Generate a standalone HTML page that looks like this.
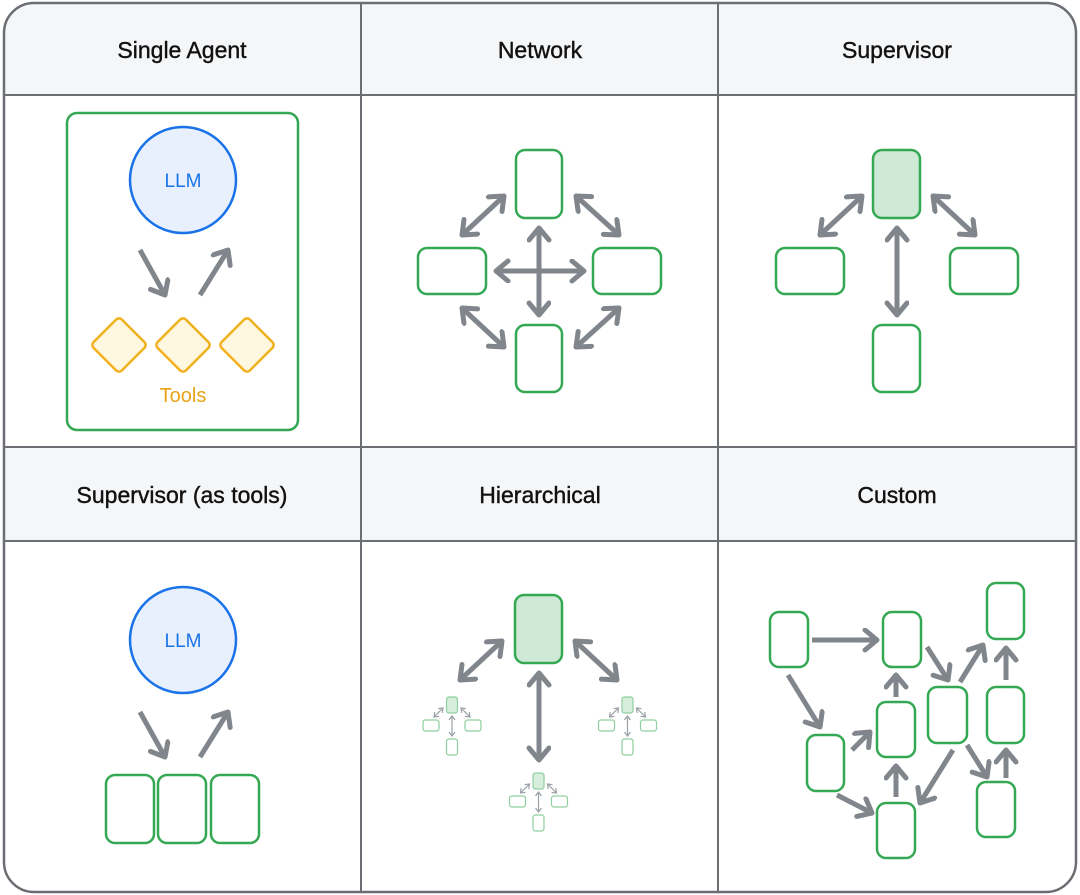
<!DOCTYPE html>
<html><head><meta charset="utf-8"><style>
html,body{margin:0;padding:0;background:#fff;}
svg{display:block;}
text{font-family:"Liberation Sans",sans-serif;}
</style></head><body>
<svg width="1080" height="895" viewBox="0 0 1080 895" xmlns="http://www.w3.org/2000/svg">
<defs>
<marker id="a" markerUnits="userSpaceOnUse" markerWidth="28" markerHeight="28" refX="15" refY="12" orient="auto-start-reverse">
<path d="M3,2 L15,12 L3,22" fill="none" stroke="#80868b" stroke-width="5" stroke-linecap="round" stroke-linejoin="round"/>
</marker>
<marker id="s" markerUnits="userSpaceOnUse" markerWidth="10" markerHeight="10" refX="5" refY="4" orient="auto-start-reverse">
<path d="M1,1 L5,4 L1,7" fill="none" stroke="#9aa0a6" stroke-width="1.2"/>
</marker>
<clipPath id="cl"><rect x="4" y="3" width="1072" height="889" rx="30"/></clipPath>
<g id="mini">
<g stroke="#8fcf9f" stroke-width="1.2">
<rect x="-5.5" y="0" width="11" height="16" rx="2.5" fill="#d7eedd"/>
<rect x="-29" y="23" width="16" height="11" rx="2.5" fill="#fff"/>
<rect x="13" y="23" width="16" height="11" rx="2.5" fill="#fff"/>
<rect x="-5.5" y="42" width="11" height="16" rx="2.5" fill="#fff"/>
</g>
<g stroke="#9aa0a6" stroke-width="1.2" fill="none">
<line x1="-18" y1="20" x2="-9" y2="11" marker-start="url(#s)" marker-end="url(#s)"/>
<line x1="9" y1="11" x2="18" y2="20" marker-start="url(#s)" marker-end="url(#s)"/>
<line x1="0" y1="19" x2="0" y2="39" marker-start="url(#s)" marker-end="url(#s)"/>
</g>
</g>
</defs>
<g clip-path="url(#cl)">
<rect x="0" y="0" width="1080" height="95" fill="#f5f6f8"/>
<rect x="0" y="447" width="1080" height="94" fill="#f5f6f8"/>
</g>
<rect x="4" y="3" width="1072" height="889" rx="30" fill="none" stroke="#6b6e72" stroke-width="2.5"/>
<g stroke="#6b6e72" stroke-width="2">
<line x1="361" y1="3" x2="361" y2="892"/><line x1="718" y1="3" x2="718" y2="892"/>
<line x1="4" y1="95" x2="1076" y2="95"/><line x1="4" y1="447" x2="1076" y2="447"/><line x1="4" y1="541" x2="1076" y2="541"/>
</g>
<g font-size="23" fill="#111" text-anchor="middle" stroke="#111" stroke-width="0.4">
<text x="182" y="58">Single Agent</text><text x="540" y="58">Network</text><text x="897" y="58">Supervisor</text>
<text x="182" y="503">Supervisor (as tools)</text><text x="540" y="503">Hierarchical</text><text x="897" y="503">Custom</text>
</g>

<!-- Single Agent -->
<rect x="67" y="113" width="231" height="317" rx="10" fill="#fff" stroke="#34a853" stroke-width="2.5"/>
<circle cx="183" cy="180" r="53" fill="#e8f0fe" stroke="#1a73e8" stroke-width="2.5"/>
<text x="183" y="187" font-size="19" fill="#1a73e8" text-anchor="middle">LLM</text>
<g stroke="#80868b" stroke-width="5" fill="none">
<line x1="140" y1="250" x2="165" y2="295" marker-end="url(#a)"/>
<line x1="200" y1="295" x2="228" y2="250" marker-end="url(#a)"/>
</g>
<g fill="#fef7e0" stroke="#f2b01e" stroke-width="2.5">
<rect x="99" y="325" width="40" height="40" rx="4" transform="rotate(45 119 345)"/>
<rect x="163" y="325" width="40" height="40" rx="4" transform="rotate(45 183 345)"/>
<rect x="227" y="325" width="40" height="40" rx="4" transform="rotate(45 247 345)"/>
</g>
<text x="183" y="402" font-size="20" fill="#e8a317" text-anchor="middle">Tools</text>

<!-- Network -->
<g fill="#fff" stroke="#34a853" stroke-width="2.5">
<rect x="516" y="150" width="46" height="68" rx="9"/>
<rect x="418" y="248" width="68" height="46" rx="9"/>
<rect x="593" y="248" width="68" height="46" rx="9"/>
<rect x="516" y="325" width="46" height="67" rx="9"/>
</g>
<g stroke="#80868b" stroke-width="5" fill="none">
<line x1="496" y1="271" x2="584" y2="271" marker-start="url(#a)" marker-end="url(#a)"/>
<line x1="539" y1="228" x2="539" y2="315" marker-start="url(#a)" marker-end="url(#a)"/>
<line x1="462" y1="235" x2="504" y2="196" marker-start="url(#a)" marker-end="url(#a)"/>
<line x1="576" y1="196" x2="619" y2="235" marker-start="url(#a)" marker-end="url(#a)"/>
<line x1="462" y1="308" x2="504" y2="347" marker-start="url(#a)" marker-end="url(#a)"/>
<line x1="576" y1="347" x2="619" y2="308" marker-start="url(#a)" marker-end="url(#a)"/>
</g>

<!-- Supervisor -->
<g stroke="#34a853" stroke-width="2.5">
<rect x="873" y="150" width="47" height="68" rx="9" fill="#ceead6"/>
<rect x="776" y="248" width="68" height="46" rx="9" fill="#fff"/>
<rect x="950" y="248" width="68" height="46" rx="9" fill="#fff"/>
<rect x="873" y="325" width="47" height="67" rx="9" fill="#fff"/>
</g>
<g stroke="#80868b" stroke-width="5" fill="none">
<line x1="820" y1="235" x2="862" y2="196" marker-start="url(#a)" marker-end="url(#a)"/>
<line x1="933" y1="196" x2="975" y2="235" marker-start="url(#a)" marker-end="url(#a)"/>
<line x1="897" y1="228" x2="897" y2="315" marker-start="url(#a)" marker-end="url(#a)"/>
</g>

<!-- Supervisor as tools -->
<circle cx="183" cy="640" r="53" fill="#e8f0fe" stroke="#1a73e8" stroke-width="2.5"/>
<text x="183" y="647" font-size="19" fill="#1a73e8" text-anchor="middle">LLM</text>
<g stroke="#80868b" stroke-width="5" fill="none">
<line x1="140" y1="712" x2="165" y2="757" marker-end="url(#a)"/>
<line x1="200" y1="757" x2="228" y2="712" marker-end="url(#a)"/>
</g>
<g fill="#fff" stroke="#34a853" stroke-width="2.5">
<rect x="106" y="775" width="48" height="68" rx="9"/>
<rect x="158" y="775" width="48" height="68" rx="9"/>
<rect x="211" y="775" width="48" height="68" rx="9"/>
</g>

<!-- Hierarchical -->
<rect x="515" y="595" width="47" height="68" rx="9" fill="#ceead6" stroke="#34a853" stroke-width="2.5"/>
<g stroke="#80868b" stroke-width="5" fill="none">
<line x1="460" y1="680" x2="502" y2="641" marker-start="url(#a)" marker-end="url(#a)"/>
<line x1="575" y1="641" x2="617" y2="680" marker-start="url(#a)" marker-end="url(#a)"/>
<line x1="539" y1="673" x2="539" y2="760" marker-start="url(#a)" marker-end="url(#a)"/>
</g>
<use href="#mini" transform="translate(452,697)"/>
<use href="#mini" transform="translate(627.5,697)"/>
<use href="#mini" transform="translate(538.5,773)"/>

<!-- Custom -->
<g fill="#fff" stroke="#34a853" stroke-width="2.5">
<rect x="770" y="612" width="38" height="55" rx="9"/>
<rect x="883" y="612" width="38" height="55" rx="9"/>
<rect x="987" y="583" width="37" height="56" rx="9"/>
<rect x="807" y="735" width="37" height="56" rx="9"/>
<rect x="877" y="702" width="38" height="55" rx="9"/>
<rect x="928" y="687" width="39" height="56" rx="9"/>
<rect x="987" y="687" width="37" height="56" rx="9"/>
<rect x="877" y="803" width="38" height="55" rx="9"/>
<rect x="977" y="782" width="38" height="55" rx="9"/>
</g>
<g stroke="#80868b" stroke-width="5" fill="none" marker-end="url(#a)">
<line x1="812" y1="640" x2="877" y2="640"/>
<line x1="788" y1="675" x2="820" y2="727"/>
<line x1="852" y1="750" x2="870" y2="732"/>
<line x1="837" y1="795" x2="872" y2="813"/>
<line x1="896" y1="797" x2="896" y2="766"/>
<line x1="896" y1="697" x2="896" y2="675"/>
<line x1="927" y1="647" x2="948" y2="680"/>
<line x1="960" y1="682" x2="983" y2="645"/>
<line x1="953" y1="750" x2="920" y2="803"/>
<line x1="967" y1="745" x2="987" y2="777"/>
<line x1="1006" y1="778" x2="1006" y2="750"/>
<line x1="1006" y1="680" x2="1006" y2="648"/>
</g>
</svg>
</body></html>
